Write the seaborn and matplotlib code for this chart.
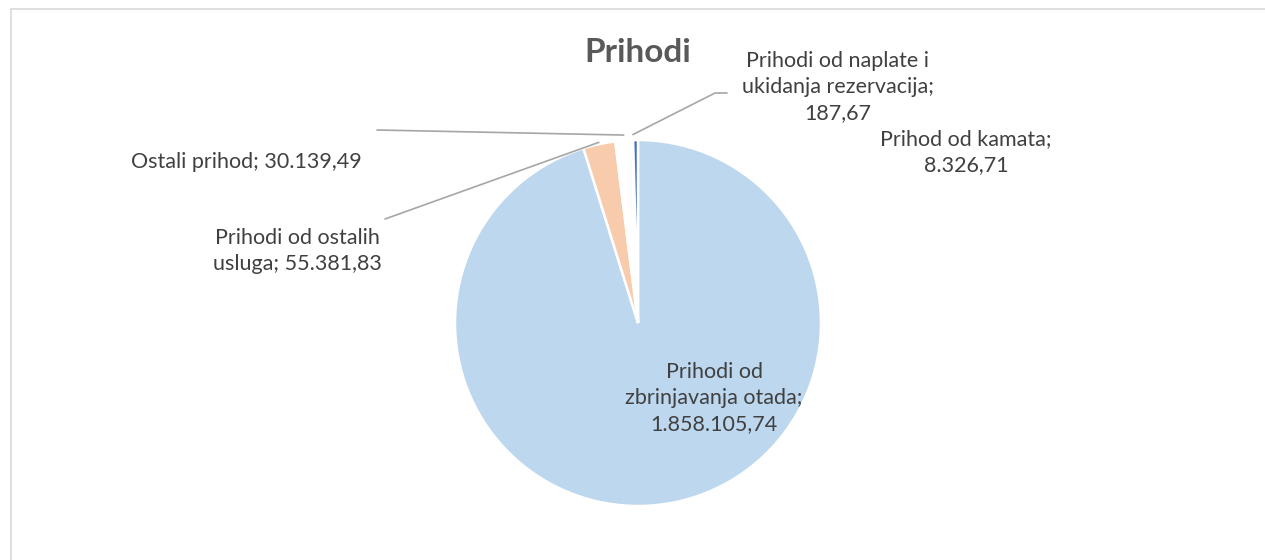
import numpy as np
import seaborn as sns
import matplotlib.pyplot as plt
from matplotlib.patches import Rectangle

# data (clockwise from 12 o'clock)
categories = ["Prihodi od zbrinjavanja otada", "Prihodi od ostalih usluga", "Ostali prihod",
              "Prihodi od naplate i ukidanja rezervacija", "Prihod od kamata"]
values = [1858105.74, 55381.83, 30139.49, 187.67, 8326.71]
label_texts = ["Prihodi od\nzbrinjavanja otada;\n1.858.105,74",
               "Prihodi od ostalih\nusluga; 55.381,83",
               "Ostali prihod; 30.139,49",
               "Prihodi od naplate i\nukidanja rezervacija;\n187,67",
               "Prihod od kamata;\n8.326,71"]
colors = ["#BDD7EE", "#F8CBAD", "#FFFFFF", "#FFC000", "#4472C4"]

sns.set_theme(style="white")
plt.rcParams['font.family'] = ['Lato', 'DejaVu Sans']

W, H = 1265, 560
fig = plt.figure(figsize=(W / 100, H / 100), dpi=100)
ax = fig.add_axes([0, 0, 1, 1])

# chart area border
ax.add_patch(Rectangle((10.5, -10), 1300, H - 8.5 + 10, fill=False, edgecolor="#D9D9D9", lw=1.2))

cx, cy, r = 638, H - 323, 183
wedges, _ = ax.pie(values, colors=colors, startangle=90, counterclock=False,
                   center=(cx, cy), radius=r, frame=True,
                   wedgeprops=dict(edgecolor="white", linewidth=1.8))
ax.set_xlim(0, W)
ax.set_ylim(0, H)
ax.set_aspect('equal')
ax.axis('off')

ax.text(638, H - 52, "Prihodi", ha="center", va="center", fontsize=24, fontweight="bold", color="#595959")

lbl_pos = [(714, H - 398), (297, H - 251), (246, H - 162), (838, H - 87), (966, H - 152)]
for s, (x, y) in zip(label_texts, lbl_pos):
    ax.text(x, y, s, ha="center", va="center", fontsize=15.5, color="#404040", linespacing=1.4)

# leader lines from slice to label
def rim(w, frac=1.0):
    a = np.deg2rad((w.theta1 + w.theta2) / 2)
    return cx + r * frac * np.cos(a), cy + r * frac * np.sin(a)

lc = "#A6A6A6"
x1, y1 = rim(wedges[1], 1.01)
ax.plot([x1, 385], [y1, H - 219], color=lc, lw=1.2)
x2, y2 = rim(wedges[2], 1.03)
ax.plot([377, x2], [H - 130, y2], color=lc, lw=1.2)
x3, y3 = rim(wedges[3], 1.03)
ax.plot([x3, 715, 727], [y3, H - 93, H - 93], color=lc, lw=1.2)

fig.savefig("out.png", dpi=100)
